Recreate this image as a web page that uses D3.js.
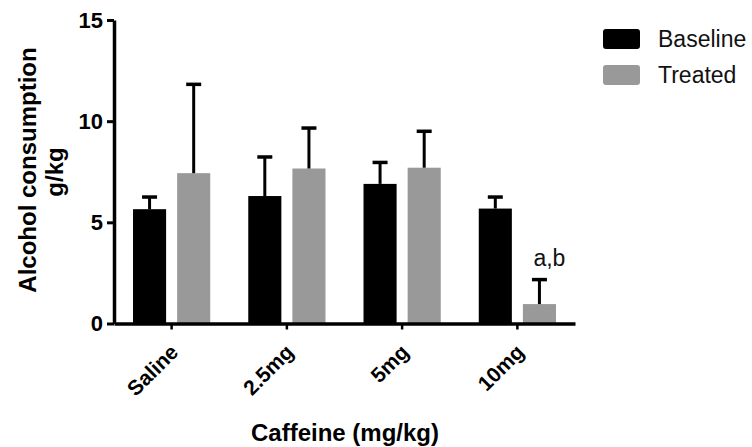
<!DOCTYPE html>
<html>
<head>
<meta charset="utf-8">
<script src="https://cdn.jsdelivr.net/npm/d3@7"></script>
<style>
  html, body { margin: 0; padding: 0; background: #fff; }
  svg { display: block; font-family: "Liberation Sans", Arial, Helvetica, sans-serif; }
</style>
</head>
<body>
<svg id="chart" width="752" height="447"></svg>
<script>
const categories = ["Saline", "2.5mg", "5mg", "10mg"];
const seriesNames = ["Baseline", "Treated"];
const baselineMeans = [5.65, 6.3, 6.9, 5.68];
const baselineErr = [0.6, 1.93, 1.06, 0.57];
const treatedMeans = [7.43, 7.66, 7.7, 0.96];
const treatedErr = [4.39, 2.0, 1.8, 1.21];
const yTicks = [0, 5, 10, 15];
const seriesColors = ["#000000", "#999999"];
const annotation = { category: "10mg", series: "Treated", text: "a,b" };

const rows = categories.map((c, i) => ({
  cat: c,
  vals: [
    { s: "Baseline", v: baselineMeans[i], e: baselineErr[i] },
    { s: "Treated", v: treatedMeans[i], e: treatedErr[i] }
  ]
}));

const svg = d3.select("#chart");

const y = d3.scaleLinear().domain([0, 15]).range([323.5, 20]);
const x0 = d3.scaleBand().domain(categories).range([114, 575]).paddingInner(0.33).paddingOuter(0.165);
const x1 = d3.scaleBand().domain(seriesNames).range([0, x0.bandwidth()]).paddingInner(0.25);
const color = d3.scaleOrdinal().domain(seriesNames).range(seriesColors);

// bars
const groups = svg.append("g").selectAll("g").data(rows).join("g")
  .attr("transform", d => `translate(${x0(d.cat)},0)`);

groups.selectAll("rect").data(d => d.vals).join("rect")
  .attr("x", d => x1(d.s))
  .attr("y", d => y(d.v))
  .attr("width", x1.bandwidth())
  .attr("height", d => y(0) - y(d.v))
  .attr("fill", d => color(d.s));

// error bars (upper only)
const capW = 15;
groups.selectAll("line.err").data(d => d.vals).join("line")
  .attr("class", "err")
  .attr("x1", d => x1(d.s) + x1.bandwidth() / 2)
  .attr("x2", d => x1(d.s) + x1.bandwidth() / 2)
  .attr("y1", d => y(d.v))
  .attr("y2", d => y(d.v + d.e))
  .attr("stroke", "#000").attr("stroke-width", 3);
groups.selectAll("line.cap").data(d => d.vals).join("line")
  .attr("class", "cap")
  .attr("x1", d => x1(d.s) + x1.bandwidth() / 2 - capW / 2)
  .attr("x2", d => x1(d.s) + x1.bandwidth() / 2 + capW / 2)
  .attr("y1", d => y(d.v + d.e))
  .attr("y2", d => y(d.v + d.e))
  .attr("stroke", "#000").attr("stroke-width", 3.5);

// annotation
{
  const i = categories.indexOf(annotation.category);
  const si = seriesNames.indexOf(annotation.series);
  const vals = rows[i].vals[si];
  svg.append("text")
    .attr("x", x0(annotation.category) + x1(annotation.series) + x1.bandwidth() / 2 - 6)
    .attr("y", y(vals.v + vals.e) - 14)
    .attr("font-size", 23)
    .attr("fill", "#111")
    .text(annotation.text);
}

// y axis
const yAxis = svg.append("g")
  .attr("transform", `translate(114,0)`)
  .call(d3.axisLeft(y).tickValues(yTicks).tickSize(7).tickPadding(4).tickSizeOuter(0));
yAxis.select(".domain").attr("stroke-width", 3.5);
yAxis.selectAll(".tick line").attr("stroke-width", 3);
yAxis.selectAll(".tick text").attr("font-size", 22).attr("font-weight", "bold")
  .attr("font-family", "Liberation Sans, Arial, sans-serif").attr("fill", "#000");

// x axis
const xAxis = svg.append("g")
  .attr("transform", `translate(0,${y(0)})`)
  .call(d3.axisBottom(x0).tickSize(6).tickSizeOuter(0));
xAxis.select(".domain").attr("stroke-width", 3.5);
xAxis.selectAll(".tick line").attr("stroke-width", 2.5);
xAxis.selectAll(".tick text")
  .attr("font-size", 21).attr("font-weight", "bold")
  .attr("font-family", "Liberation Sans, Arial, sans-serif").attr("fill", "#000")
  .attr("x", 0).attr("y", 0).attr("dy", null)
  .attr("text-anchor", "end")
  .attr("transform", "translate(8,30) rotate(-45)");

// axis titles
svg.append("text")
  .attr("transform", "translate(36,170) rotate(-90)")
  .attr("text-anchor", "middle").attr("font-size", 24).attr("font-weight", "bold")
  .text("Alcohol consumption");
svg.append("text")
  .attr("transform", "translate(63,172) rotate(-90)")
  .attr("text-anchor", "middle").attr("font-size", 24).attr("font-weight", "bold")
  .text("g/kg");
svg.append("text")
  .attr("x", 345).attr("y", 441)
  .attr("text-anchor", "middle").attr("font-size", 24).attr("font-weight", "bold")
  .text("Caffeine (mg/kg)");

// legend
const legend = svg.append("g").selectAll("g").data(seriesNames).join("g")
  .attr("transform", (d, i) => `translate(603,${29 + i * 36})`);
legend.append("rect")
  .attr("width", 37).attr("height", 20).attr("rx", 3)
  .attr("fill", d => color(d));
legend.append("text")
  .attr("x", 55).attr("y", 18)
  .attr("font-size", 23).attr("fill", "#111")
  .text(d => d);
</script>
</body>
</html>
